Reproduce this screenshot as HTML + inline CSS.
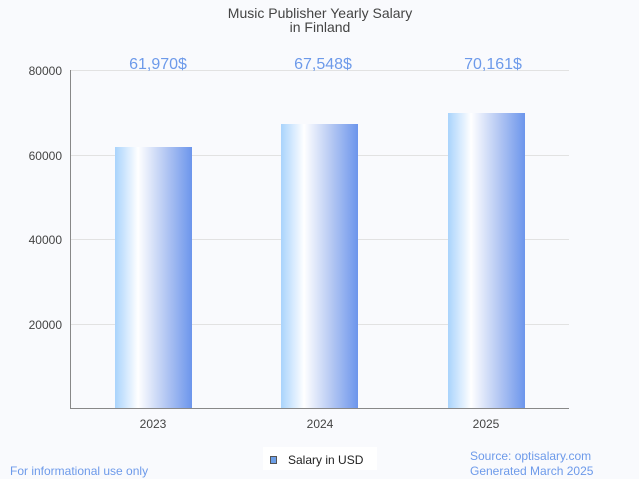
<!DOCTYPE html>
<html><head><style>body{margin:0;background:#f9fafd}svg{display:block;font-family:"Liberation Sans",Arial,sans-serif}</style></head>
<body>
<svg width="639" height="479" viewBox="0 0 639 479">
<defs><linearGradient id="g" x1="0" x2="1" y1="0" y2="0">
<stop offset="0" stop-color="#a9d3fc"/><stop offset="0.3" stop-color="#ffffff"/><stop offset="0.65" stop-color="#b6c9f3"/><stop offset="1" stop-color="#6c95ec"/></linearGradient></defs>
<rect width="639" height="479" fill="#f9fafd"/>
<text x="320" y="18" text-anchor="middle" font-size="14" fill="#444">Music Publisher Yearly Salary</text>
<text x="320" y="32" text-anchor="middle" font-size="14" fill="#444">in Finland</text>
<g stroke="#e2e2e2" stroke-width="1">
<line x1="70" x2="569" y1="70.5" y2="70.5"/><line x1="70" x2="569" y1="155.5" y2="155.5"/><line x1="70" x2="569" y1="239.5" y2="239.5"/><line x1="70" x2="569" y1="324.5" y2="324.5"/>
</g>
<g font-size="12" fill="#444" text-anchor="end">
<text x="62" y="75">80000</text><text x="62" y="160">60000</text><text x="62" y="244">40000</text><text x="62" y="329">20000</text></g>
<rect x="115" y="147" width="77" height="261" fill="url(#g)"/>
<rect x="281" y="124" width="77" height="284" fill="url(#g)"/>
<rect x="448" y="113" width="77" height="295" fill="url(#g)"/>
<line x1="70.5" x2="70.5" y1="70" y2="409" stroke="#888"/>
<line x1="70" x2="569" y1="408.5" y2="408.5" stroke="#888"/>
<g font-size="12" fill="#444" text-anchor="middle">
<text x="153" y="428">2023</text><text x="320" y="428">2024</text><text x="486" y="428">2025</text></g>
<g font-size="16" fill="#6d9aea" text-anchor="middle">
<text x="158" y="69">61,970$</text><text x="323" y="69">67,548$</text><text x="493" y="69">70,161$</text></g>
<rect x="263" y="447" width="114" height="23" fill="#fff"/>
<rect x="270.5" y="456.5" width="6" height="7" fill="#6c9ee6" stroke="#555"/>
<text x="288" y="464" font-size="12" fill="#222">Salary in USD</text>
<text x="10" y="475" font-size="12" fill="#6d9aea">For informational use only</text>
<text x="470" y="460" font-size="12" fill="#6d9aea">Source: optisalary.com</text>
<text x="470" y="475" font-size="12" fill="#6d9aea">Generated March 2025</text>
</svg>
</body></html>
